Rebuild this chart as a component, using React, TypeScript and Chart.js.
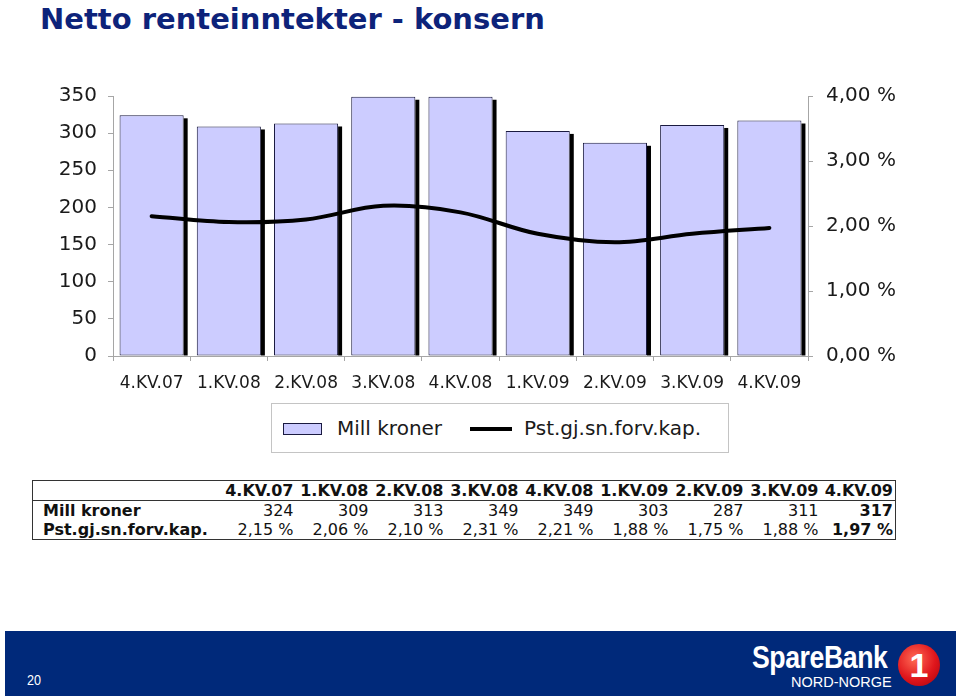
import React, { useEffect, useRef } from 'react';
import { Chart, registerables } from 'chart.js';

Chart.register(...registerables);

const TITLE = 'Netto renteinntekter - konsern';
const categories = ['4.KV.07', '1.KV.08', '2.KV.08', '3.KV.08', '4.KV.08', '1.KV.09', '2.KV.09', '3.KV.09', '4.KV.09'];
const barLabel = 'Mill kroner';
const lineLabel = 'Pst.gj.sn.forv.kap.';
const millKroner = [324, 309, 313, 349, 349, 303, 287, 311, 317];
const pstValues = [2.15, 2.06, 2.1, 2.31, 2.21, 1.88, 1.75, 1.88, 1.97];
const leftAxisMax = 350;
const leftAxisStep = 50;
const rightAxisMax = 4;
const rightAxisStep = 1;
const pageNumber = '20';

const FONT = '"DejaVu Sans", Verdana, sans-serif';
const LOGO_FONT = '"Liberation Sans", Arial, sans-serif';
const fmtPct = (v: number) => v.toFixed(2).replace('.', ',') + ' %';

const shadowPlugin = {
  id: 'barShadow',
  afterDatasetDraw(chart: any, args: any) {
    if (args.meta.type !== 'bar') return;
    const ctx = chart.ctx;
    ctx.save();
    ctx.fillStyle = '#000000';
    args.meta.data.forEach((el: any) => {
      const p = el.getProps(['x', 'y', 'width', 'base'], true);
      ctx.fillRect(p.x + p.width / 2, p.y + 3, 4, p.base - p.y - 3);
    });
    ctx.restore();
  },
};

function ChartCanvas() {
  const ref = useRef<HTMLCanvasElement | null>(null);
  useEffect(() => {
    if (!ref.current) return;
    const axisGrey = '#A6A6A6';
    const chart = new Chart(ref.current, {
      type: 'bar',
      data: {
        labels: categories,
        datasets: [
          {
            type: 'bar',
            label: barLabel,
            data: millKroner,
            yAxisID: 'y',
            backgroundColor: '#CCCCFF',
            borderColor: '#1A1A40',
            borderWidth: 1,
            borderSkipped: false,
            barPercentage: 0.83,
            categoryPercentage: 1,
            order: 1,
          } as any,
          {
            type: 'line',
            label: lineLabel,
            data: pstValues,
            yAxisID: 'y1',
            borderColor: '#000000',
            borderWidth: 4,
            pointRadius: 0,
            tension: 0.35,
            borderCapStyle: 'round',
            fill: false,
            order: 0,
          } as any,
        ],
      },
      options: {
        responsive: false,
        animation: false,
        layout: { padding: { top: 36, left: 0, right: 0, bottom: 0 } },
        plugins: { legend: { display: false }, tooltip: { enabled: false } },
        scales: {
          x: {
            grid: { offset: true, drawOnChartArea: false, tickLength: 5, color: axisGrey },
            border: { color: axisGrey },
            ticks: { font: { family: FONT, size: 17 }, color: '#1a1a1a', padding: 12, maxRotation: 0, autoSkip: false },
            afterFit: (s: any) => { s.height = 44; },
          },
          y: {
            position: 'left',
            min: 0,
            max: leftAxisMax,
            grid: { drawOnChartArea: false, tickLength: 5, color: axisGrey },
            border: { color: axisGrey },
            ticks: { stepSize: leftAxisStep, font: { family: FONT, size: 20 }, color: '#1a1a1a', padding: 11 },
            afterFit: (s: any) => { s.width = 113; },
          },
          y1: {
            position: 'right',
            min: 0,
            max: rightAxisMax,
            grid: { drawOnChartArea: false, tickLength: 5, color: axisGrey },
            border: { color: axisGrey },
            ticks: { stepSize: rightAxisStep, font: { family: FONT, size: 20 }, color: '#1a1a1a', padding: 13, callback: (v: any) => fmtPct(Number(v)) },
            afterFit: (s: any) => { s.width = 152; },
          },
        },
      } as any,
      plugins: [shadowPlugin],
    });
    return () => chart.destroy();
  }, []);
  return <canvas ref={ref} width={960} height={340} style={{ position: 'absolute', left: 0, top: 60, width: 960, height: 340 }} />;
}

function Legend() {
  return (
    <div style={{ position: 'absolute', left: 271, top: 403, width: 456, height: 48, border: '1px solid #C4C4C4', fontFamily: FONT, fontSize: 20, color: '#1a1a1a' }}>
      <div style={{ position: 'absolute', left: 11, top: 19, width: 37, height: 10, background: '#CCCCFF', border: '1.5px solid #1A1A40' }} />
      <div style={{ position: 'absolute', left: 65, top: 12, lineHeight: '24px', whiteSpace: 'nowrap' }}>{barLabel}</div>
      <div style={{ position: 'absolute', left: 198, top: 23, width: 42, height: 4, background: '#000' }} />
      <div style={{ position: 'absolute', left: 252, top: 12, lineHeight: '24px', whiteSpace: 'nowrap' }}>{lineLabel}</div>
    </div>
  );
}

function DataTable() {
  const last = categories.length - 1;
  const cell: React.CSSProperties = { textAlign: 'right', padding: '0 2px 0 0', whiteSpace: 'nowrap' };
  const first: React.CSSProperties = { textAlign: 'left', padding: '0 0 0 10px', fontWeight: 'bold', whiteSpace: 'nowrap' };
  return (
    <table style={{ position: 'absolute', left: 32, top: 480, width: 863, borderCollapse: 'collapse', tableLayout: 'fixed', border: '1.5px solid #333', fontFamily: FONT, fontSize: 16, lineHeight: '19px', color: '#111' }}>
      <colgroup>
        <col style={{ width: 188 }} />
        {categories.map((c) => <col key={c} style={{ width: 75 }} />)}
      </colgroup>
      <tbody>
        <tr style={{ fontWeight: 'bold', borderBottom: '1.5px solid #333' }}>
          <td style={first}></td>
          {categories.map((c) => <td key={c} style={cell}>{c}</td>)}
        </tr>
        <tr>
          <td style={first}>{barLabel}</td>
          {millKroner.map((v, i) => <td key={i} style={{ ...cell, fontWeight: i === last ? 'bold' : 'normal' }}>{v}</td>)}
        </tr>
        <tr>
          <td style={first}>{lineLabel}</td>
          {pstValues.map((v, i) => <td key={i} style={{ ...cell, fontWeight: i === last ? 'bold' : 'normal' }}>{fmtPct(v)}</td>)}
        </tr>
      </tbody>
    </table>
  );
}

function Footer() {
  return (
    <div style={{ position: 'absolute', left: 5, top: 631, width: 951, height: 65, background: '#00297A', color: '#fff' }}>
      <div style={{ position: 'absolute', left: 22, top: 41, fontFamily: LOGO_FONT, fontSize: 14, transform: 'scaleX(0.9)', transformOrigin: 'left' }}>{pageNumber}</div>
      <div style={{ position: 'absolute', left: 747, top: 10, fontFamily: LOGO_FONT, fontWeight: 'bold', fontSize: 31, letterSpacing: -0.5, lineHeight: '34px', whiteSpace: 'nowrap', transform: 'scaleX(0.86)', transformOrigin: 'left' }}>SpareBank</div>
      <div style={{ position: 'absolute', left: 786, top: 43, fontFamily: LOGO_FONT, fontSize: 14.5, lineHeight: '16px', whiteSpace: 'nowrap' }}>NORD-NORGE</div>
      <div style={{ position: 'absolute', left: 893, top: 13, width: 42, height: 42, borderRadius: '50%', background: 'radial-gradient(circle at 40% 35%, #ff6a55 0%, #e0161c 55%, #a3000c 100%)', display: 'flex', alignItems: 'center', justifyContent: 'center', fontFamily: LOGO_FONT, fontWeight: 'bold', fontSize: 34, color: '#fff' }}>1</div>
    </div>
  );
}

export default function App() {
  return (
    <div style={{ position: 'absolute', left: 0, top: 0, width: 960, height: 696, background: '#fff', overflow: 'hidden' }}>
      <div style={{ position: 'absolute', left: 40, top: 5, fontFamily: FONT, fontWeight: 'bold', fontSize: 29, lineHeight: '29px', color: '#0D237A', whiteSpace: 'nowrap' }}>{TITLE}</div>
      <ChartCanvas />
      <Legend />
      <DataTable />
      <Footer />
    </div>
  );
}
